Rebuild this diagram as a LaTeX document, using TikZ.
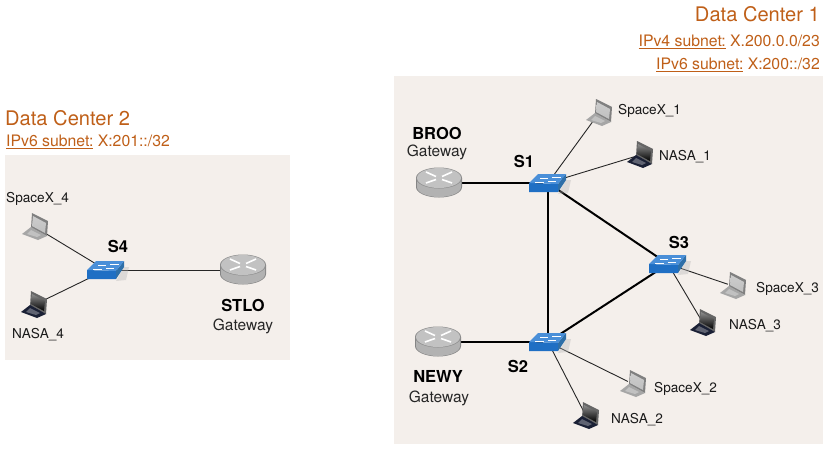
\documentclass[tikz,border=0pt]{standalone}
\usepackage{fontspec}
\setmainfont{TeX Gyre Heros}
\usepackage{xcolor}
\usetikzlibrary{positioning}
\definecolor{panelbg}{HTML}{F4EFEB}
\definecolor{dctitle}{HTML}{BF5F18}
\definecolor{switchtop}{HTML}{4A8FD8}
\definecolor{switchfront}{HTML}{1F6FC4}
\definecolor{switchside}{HTML}{2E6FA8}
\definecolor{navybase}{HTML}{1A2035}
\colorlet{silverbase}{black!35}
\tikzstyle{panel}=[fill=panelbg, draw=none]
\tikzstyle{site}=[inner sep=0pt, text=dctitle, font=\fontsize{20.1}{22}\selectfont]
\tikzstyle{subnet}=[inner sep=0pt, text=dctitle, font=\fontsize{15.8}{17}\selectfont]
\tikzstyle{devlabel}=[inner sep=0pt, font=\fontsize{16.5}{18}\selectfont\bfseries]
\tikzstyle{role}=[inner sep=0pt, font=\fontsize{15.5}{17}\selectfont, text=black!85]
\tikzstyle{host}=[inner sep=0pt, font=\fontsize{13.6}{15}\selectfont, text=black!90]
\tikzstyle{device}=[inner sep=0pt, minimum width=10pt, minimum height=8pt]
\tikzstyle{trunk}=[line width=2pt]
\tikzstyle{uplink}=[line width=.9pt, black!85]
\tikzset{
  pics/routericon/.style={code={
    \fill[black!48] (-23,-5) -- (-23,4) arc[start angle=180,end angle=0,x radius=23,y radius=10.5] -- (23,-5) -- cycle;
    \fill[black!30] (-22,-5) -- (-22,4) arc[start angle=180,end angle=0,x radius=22,y radius=10] -- (22,-5) -- cycle;
    \fill[black!45] (0,-5) ellipse[x radius=23,y radius=10.5];
    \fill[black!24] (0,-5) ellipse[x radius=22,y radius=10];
    \draw[white, line width=1.6pt] (-13,-11) -- (-3,-6.5) (13,-11) -- (3,-6.5) (-13,0) -- (-3,-3.5) (13,0) -- (3,-3.5);
  }},
  pics/switchicon/.style={code={
    \fill[black!30, opacity=.35] (10,11) -- (20,10) -- (23,-3) -- (18,-3) -- cycle;
    \fill[switchfront] (-19,0) -- (10,1) -- (10,9) -- (-19,9) -- cycle;
    \fill[switchside] (10,1) -- (18,-9) -- (18,-3) -- (10,9) -- cycle;
    \fill[switchtop] (-19,0) -- (-10,-9) -- (18,-9) -- (10,1) -- cycle;
    \draw[white, line width=.9pt] (-8,-5) -- (0,-5) (4,-6) -- (13,-6) (-13,-1) -- (-4,-1) (0,-2) -- (8,-2);
  }},
  pics/laptopicon/.style n args={4}{code={
    \fill[#1] (-3,-14) -- (13,-6) -- (12,9) -- (-4,1) -- cycle;
    \shade[top color=#2, bottom color=#3] (-2,-11) -- (11,-4) -- (10,6) -- (-3,-1) -- cycle;
    \fill[#4] (-13,7) -- (-4,0) -- (12,9) -- (3,13) -- cycle;
    \fill[#4!70!white] (-8,7) -- (-4,3) -- (6,8) -- (2,10) -- cycle;
  }}
}
\begin{document}
\begin{tikzpicture}[x=1pt, y=-1pt, >=stealth]
  \useasboundingbox (0,0) rectangle (832,450);
  %Panels
  \fill[panel] (394,76) rectangle (823,444);
  \fill[panel] (5,155) rectangle (290,360);
  %Titles
  \node[site, anchor=east] (dcone) at (820,14) {Data Center 1};
  \node[subnet, anchor=east] (dcone4) at (820,42) {\underline{IPv4 subnet:} X.200.0.0/23};
  \node[subnet, anchor=east] (dcone6) at (820,64.5) {\underline{IPv6 subnet:} X:200::/32};
  \node[site, anchor=west] (dctwo) at (5,118) {Data Center 2};
  \node[subnet, anchor=west] (dctwo6) at (6,142) {\underline{IPv6 subnet:} X:201::/32};
  %Devices
  \node[device] (BROO) at (439,183) {};
  \node[device] (NEWY) at (438,342) {};
  \node[device] (STLO) at (243,270) {};
  \node[device] (S1) at (548,183) {};
  \node[device] (S2) at (548,342) {};
  \node[device] (S3) at (668,264) {};
  \node[device] (S4) at (106,270) {};
  \node[device] (H1) at (599,113) {};
  \node[device] (N1) at (640,155) {};
  \node[device] (H2) at (633,384) {};
  \node[device] (N2) at (586,416) {};
  \node[device] (H3) at (733,286) {};
  \node[device] (N3) at (703,323) {};
  \node[device] (H4) at (35,227) {};
  \node[device] (N4) at (34,305) {};
  %Links
  \draw[trunk] (BROO) -- (S1);
  \draw[trunk] (NEWY) -- (S2);
  \draw[trunk] (S1) -- (S2);
  \draw[trunk] (S1) -- (S3);
  \draw[trunk] (S2) -- (S3);
  \draw[uplink] (S1) -- (H1);
  \draw[uplink] (S1) -- (N1);
  \draw[uplink] (S2) -- (H2);
  \draw[uplink] (S2) -- (N2);
  \draw[uplink] (S3) -- (H3);
  \draw[uplink] (S3) -- (N3);
  \draw[uplink] (S4) -- (H4);
  \draw[uplink] (S4) -- (N4);
  \draw[uplink] (S4) -- (STLO);
  %Icons
  \foreach \dev in {BROO,NEWY,STLO} \path (\dev) pic {routericon};
  \foreach \dev in {S1,S2,S3,S4} \path (\dev) pic {switchicon};
  \foreach \dev in {H1,H2,H3,H4} \path (\dev) pic {laptopicon={black!50}{black!20}{black!25}{silverbase}};
  \foreach \dev in {N1,N2,N3,N4} \path (\dev) pic {laptopicon={black!60}{black!45}{black}{navybase}};
  %Labels
  \node[devlabel] (broolabel) at (437,133) {BROO};
  \node[role] (broorole) at (437,152) {Gateway};
  \node[devlabel] (newylabel) at (438,376) {NEWY};
  \node[role] (newyrole) at (439,398) {Gateway};
  \node[devlabel] (stlolabel) at (243,305) {STLO};
  \node[role] (stlorole) at (243,326) {Gateway};
  \node[devlabel] (sonelabel) at (524,161) {S1};
  \node[devlabel] (stwolabel) at (518,366) {S2};
  \node[devlabel] (sthreelabel) at (679,242) {S3};
  \node[devlabel] (sfourlabel) at (118,246) {S4};
  \node[host, anchor=west] (hone) at (618,111) {SpaceX\_1};
  \node[host, anchor=west] (none) at (659,157) {NASA\_1};
  \node[host, anchor=west] (htwo) at (654,389) {SpaceX\_2};
  \node[host, anchor=west] (ntwo) at (611,419.5) {NASA\_2};
  \node[host, anchor=west] (hthree) at (756,288.5) {SpaceX\_3};
  \node[host, anchor=west] (nthree) at (729,325.5) {NASA\_3};
  \node[host, anchor=west] (hfour) at (6,198.5) {SpaceX\_4};
  \node[host, anchor=west] (nfour) at (12,334.5) {NASA\_4};
\end{tikzpicture}
\end{document}
